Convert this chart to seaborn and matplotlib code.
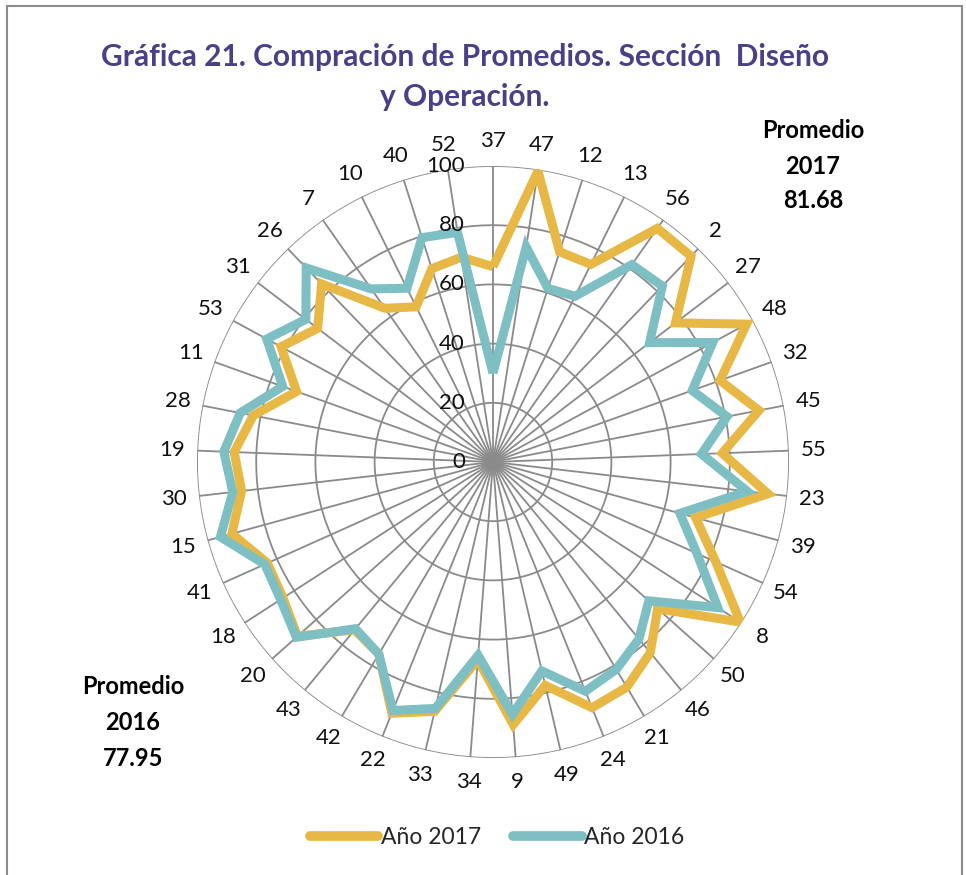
import numpy as np
import pandas as pd
import matplotlib
matplotlib.use("Agg")
import matplotlib.pyplot as plt
import matplotlib.patches as mpatches
from matplotlib.lines import Line2D
import matplotlib.transforms as mtransforms
import seaborn as sns

categories = ["37", "47", "12", "13", "56", "2", "27", "48", "32", "45", "55", "23", "39", "54",
              "8", "50", "46", "21", "24", "49", "9", "34", "33", "22", "42", "43", "20", "18",
              "41", "15", "30", "19", "28", "11", "53", "31", "26", "7", "10", "40", "52"]
anio_2017 = [66, 99.5, 74.5, 74.5, 96.5, 96.5, 77.5, 97.5, 81.5, 91.5, 77.5, 93.5, 71, 82.5,
             99.5, 74.5, 83.5, 88.5, 89.5, 77.5, 89, 67, 86.5, 91.5, 75.5, 73.5, 88.5, 84.5,
             83.5, 91.5, 85.5, 87.5, 82.5, 70.5, 81.5, 74.5, 83.5, 63.5, 58.5, 68.5, 70]
anio_2016 = [30, 73.5, 61.5, 62.5, 81.5, 82.5, 66.5, 84.5, 71.5, 80.5, 70.5, 86.5, 65.5, 75.5,
             90.5, 70.5, 77.5, 81.5, 83.5, 72.5, 85.5, 65.5, 85.5, 90.5, 75.5, 73, 89, 85.5,
             84.5, 95.5, 88.5, 91, 87, 75.5, 87, 79.5, 91, 71.5, 65.5, 79.5, 78.5]
series_names = ["Año 2017", "Año 2016"]
r_ticks = [0, 20, 40, 60, 80, 100]
promedio_2017 = "81.68"
promedio_2016 = "77.95"

c17 = "#E8B846"
c16 = "#7EBFC3"

sns.set_theme(style="white")
plt.rcParams["font.family"] = ["Lato", "DejaVu Sans"]

W, H = 966, 875
fig = plt.figure(figsize=(W / 100, H / 100), dpi=100)
fig.patch.set_facecolor("white")

# outer border
fig.patches.append(mpatches.Rectangle((7 / W, -0.01), (962 - 7) / W, 1 - 6 / H + 0.01,
                                      transform=fig.transFigure, fill=False,
                                      edgecolor="#8c8c8c", linewidth=1.5))

cx, cy, R = 493, 462, 296
ax = fig.add_axes([(cx - R) / W, (H - cy - R) / H, 2 * R / W, 2 * R / H], projection="polar")
ax.set_theta_zero_location("N")
ax.set_theta_direction(-1)
ax.set_ylim(0, 100)
ax.set_facecolor("white")

n = len(categories)
theta = np.arange(n) * 2 * np.pi / n

rows = []
for name, vals in zip(series_names, [anio_2017, anio_2016]):
    for k in range(n):
        rows.append({"serie": name, "theta": theta[k], "valor": vals[k]})
    rows.append({"serie": name, "theta": 2 * np.pi, "valor": vals[0]})  # close the loop
df = pd.DataFrame(rows)

# grid
ax.grid(False)
ax.spines["polar"].set_visible(False)
ax.set_xticks([])
ax.set_yticks([])
gcol = "#8a8a8a"
tt = np.linspace(0, 2 * np.pi, 400)
for r in r_ticks[1:]:
    ax.plot(tt, np.full_like(tt, r), color=gcol, lw=1.3, zorder=1)
for t in theta:
    ax.plot([t, t], [0, 100], color=gcol, lw=1.3, zorder=1)

sns.lineplot(data=df, x="theta", y="valor", hue="serie", palette=[c17, c16], sort=False,
             estimator=None, units="serie", linewidth=6.5, ax=ax, legend=False, zorder=3)
for line in ax.get_lines()[-2:]:
    line.set_solid_joinstyle("miter")
    line.set_solid_capstyle("butt")
ax.get_lines()[-1].set_zorder(4)

# radial labels
off = mtransforms.offset_copy(ax.transData, fig=fig, x=-28, y=0, units="dots")
for r in r_ticks:
    ax.text(0, r, str(r), transform=off, ha="right", va="center", fontsize=16, color="#111111", zorder=5)

# category labels
for t, lab in zip(theta, categories):
    ax.text(t, 108.5, lab, ha="center", va="center", fontsize=16, color="#111111", clip_on=False)

ax.set_xlabel("")
ax.set_ylabel("")

fig.text(465 / W, 1 - 57 / H, "Gráfica 21. Compración de Promedios. Sección  Diseño",
         ha="center", va="center", fontsize=21.5, fontweight="bold", color="#4B3F86")
fig.text(465 / W, 1 - 97 / H, "y Operación.",
         ha="center", va="center", fontsize=21.5, fontweight="bold", color="#4B3F86")

for i, s in enumerate(["Promedio", "2017", promedio_2017]):
    fig.text(813 / W, 1 - (131 + i * 35) / H, s, ha="center", va="center", fontsize=17,
             fontweight="bold", color="black")
for i, s in enumerate(["Promedio", "2016", promedio_2016]):
    fig.text(133 / W, 1 - (687 + i * 36) / H, s, ha="center", va="center", fontsize=17,
             fontweight="bold", color="black")

handles = [Line2D([0], [0], color=c17, lw=7, solid_capstyle="round"),
           Line2D([0], [0], color=c16, lw=7, solid_capstyle="round")]
fig.legend(handles, series_names, loc="center", bbox_to_anchor=(497 / W, 1 - 838 / H), ncol=2,
           frameon=False, fontsize=16.5, handlelength=3.0, handletextpad=0.1, columnspacing=1.4)

fig.savefig("out.png", dpi=100, facecolor="white")
